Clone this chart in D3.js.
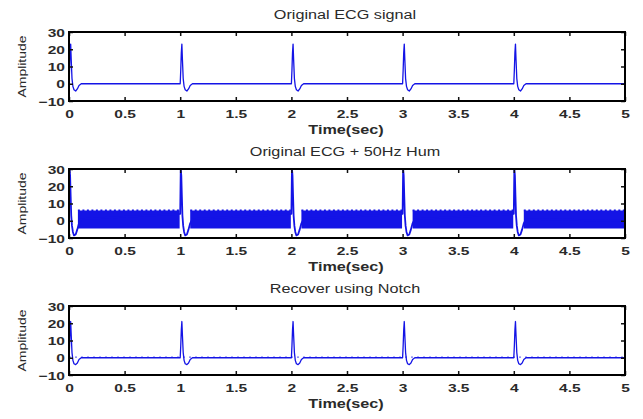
<!DOCTYPE html>
<html>
<head>
<meta charset="utf-8">
<script src="https://cdn.jsdelivr.net/npm/d3@7"></script>
<style>
  body { margin: 0; background: #fff; }
  text { font-family: "Liberation Sans", Arial, sans-serif; fill: #2a2a2a; }
</style>
</head>
<body>
<svg id="chart" width="643" height="419"></svg>
<script>
// axis ticks
const timeTicks = [0, 0.5, 1, 1.5, 2, 2.5, 3, 3.5, 4, 4.5, 5]
const ampTicks = [-10, 0, 10, 20, 30]

// beat positions (sec) and beat shape
const beatTimes = [0, 1, 2, 3, 4]
const beatOffsets = [0, 0.005, 0.01, 0.015, 0.02, 0.027, 0.035, 0.045, 0.06, 0.075, 0.09, 0.11]
const cleanBeat = [0, 8, 18, 23, 14, 3, -1.5, -3.5, -4.2, -3, -1, 0]
const humBeat = [4, 30, 26, 14, 3, -3, -6.5, -8.5, -8, -5, -1.5, 1]
const notchBeat = [0, 7, 16, 21, 13, 3, -1.5, -3.5, -4, -3, -1, 0]

// 50Hz hum shows up as a solid band between the beats
const humSegments = [[0.08, 0.995], [1.09, 1.995], [2.09, 2.995], [3.09, 3.995], [4.09, 5]]
const humUpper = [6, 6, 6, 6, 6]
const humLower = [-4.5, -4.5, -4.5, -4.5, -4.5]

const panels = [
	{ title: "Original ECG signal", beat: cleanBeat, top: 32, hum: false, ripple: false },
	{ title: "Original ECG + 50Hz Hum", beat: humBeat, top: 169, hum: true, ripple: false },
	{ title: "Recover using Notch", beat: notchBeat, top: 306, hum: false, ripple: true }
]

const plotLeft = 69
const plotRight = 625
const plotHeight = 69
const lineColor = "#1414e6"
const stretch = 1.35

const svg = d3.select("#chart")
const x = d3.scaleLinear().domain([0, 5]).range([plotLeft, plotRight])

// the picture is stretched sideways, so widen the glyphs to match
const widen = sel => sel.each(function () {
	const len = this.getComputedTextLength()
	d3.select(this).attr("textLength", len * stretch).attr("lengthAdjust", "spacingAndGlyphs")
})

const beatSeries = beat => {
	const pts = []
	beatTimes.forEach(t => beatOffsets.forEach((o, i) => pts.push([t + o, beat[i]])))
	pts.push([5, 0])
	return pts
}

panels.forEach((p, k) => {
	const top = p.top
	const bottom = top + plotHeight
	const y = d3.scaleLinear().domain([-10, 30]).range([bottom, top])
	const g = svg.append("g")

	const clipId = "clip" + k
	g.append("clipPath").attr("id", clipId)
		.append("rect").attr("x", plotLeft).attr("y", top).attr("width", plotRight - plotLeft).attr("height", plotHeight)

	const plot = g.append("g").attr("clip-path", `url(#${clipId})`)

	if (p.hum) {
		const area = d3.area().x(d => x(d[0])).y0(d => y(d[2])).y1(d => y(d[1]))
		humSegments.forEach((s, i) => {
			plot.append("path")
				.attr("d", area([[s[0], humUpper[i], humLower[i]], [s[1], humUpper[i], humLower[i]]]))
				.attr("fill", lineColor)
			plot.append("line")
				.attr("x1", x(s[0])).attr("x2", x(s[1]))
				.attr("y1", y(humUpper[i])).attr("y2", y(humUpper[i]))
				.attr("stroke", lineColor).attr("stroke-width", 1.6).attr("stroke-dasharray", "2,2.5")
		})
	}

	const line = d3.line().x(d => x(d[0])).y(d => y(d[1]))
	plot.append("path")
		.attr("d", line(beatSeries(p.beat)))
		.attr("fill", "none")
		.attr("stroke", lineColor)
		.attr("stroke-width", p.hum ? 1.8 : 1.3)
		.attr("stroke-linejoin", "round")

	if (p.ripple) {
		plot.append("line")
			.attr("x1", plotLeft).attr("x2", plotRight)
			.attr("y1", y(0) - 0.7).attr("y2", y(0) - 0.7)
			.attr("stroke", lineColor).attr("stroke-width", 1.2).attr("stroke-dasharray", "2,4")
			.attr("opacity", 0.6)
	}

	// ticks pointing inward on all four sides
	const xTop = d3.axisTop(x).tickValues(timeTicks).tickSize(-4).tickFormat("")
	const xBot = d3.axisBottom(x).tickValues(timeTicks).tickSize(-4).tickFormat(d3.format("~g"))
	const yLeft = d3.axisLeft(y).tickValues(ampTicks).tickSize(-4).tickFormat(d3.format("~g"))
	const yRight = d3.axisRight(y).tickValues(ampTicks).tickSize(-4).tickFormat("")

	const axes = [
		g.append("g").attr("transform", `translate(0,${top})`).call(xTop),
		g.append("g").attr("transform", `translate(0,${bottom})`).call(xBot),
		g.append("g").attr("transform", `translate(${plotLeft},0)`).call(yLeft),
		g.append("g").attr("transform", `translate(${plotRight},0)`).call(yRight)
	]
	axes.forEach(a => {
		a.select(".domain").remove()
		a.selectAll(".tick line").attr("stroke", "#111").attr("stroke-width", 1.5)
		a.selectAll(".tick text").attr("font-size", 11.5).attr("font-weight", "bold").attr("fill", "#3a3a3a")
	})
	axes[1].selectAll(".tick text").attr("dy", null).attr("y", 17)
	axes[2].selectAll(".tick text").attr("x", -4).attr("dy", "0.36em")
	axes[1].selectAll(".tick text").call(widen)
	axes[2].selectAll(".tick text").call(widen)

	g.append("rect")
		.attr("x", plotLeft).attr("y", top).attr("width", plotRight - plotLeft).attr("height", plotHeight)
		.attr("fill", "none").attr("stroke", "#000").attr("stroke-width", 2)

	g.append("text")
		.attr("x", (plotLeft + plotRight) / 2 - 2).attr("y", top - 13)
		.attr("text-anchor", "middle").attr("font-size", 12)
		.text(p.title).call(widen)

	g.append("text")
		.attr("x", (plotLeft + plotRight) / 2 - 1).attr("y", bottom + 33)
		.attr("text-anchor", "middle").attr("font-size", 12).attr("font-weight", "bold")
		.text("Time(sec)").call(widen)

	g.append("text")
		.attr("transform", `translate(26,${(top + bottom) / 2}) rotate(-90)`)
		.attr("text-anchor", "middle").attr("font-size", 11)
		.text("Amplitude")
		.each(function () {
			d3.select(this).attr("textLength", 62).attr("lengthAdjust", "spacingAndGlyphs")
		})
})
</script>
</body>
</html>
